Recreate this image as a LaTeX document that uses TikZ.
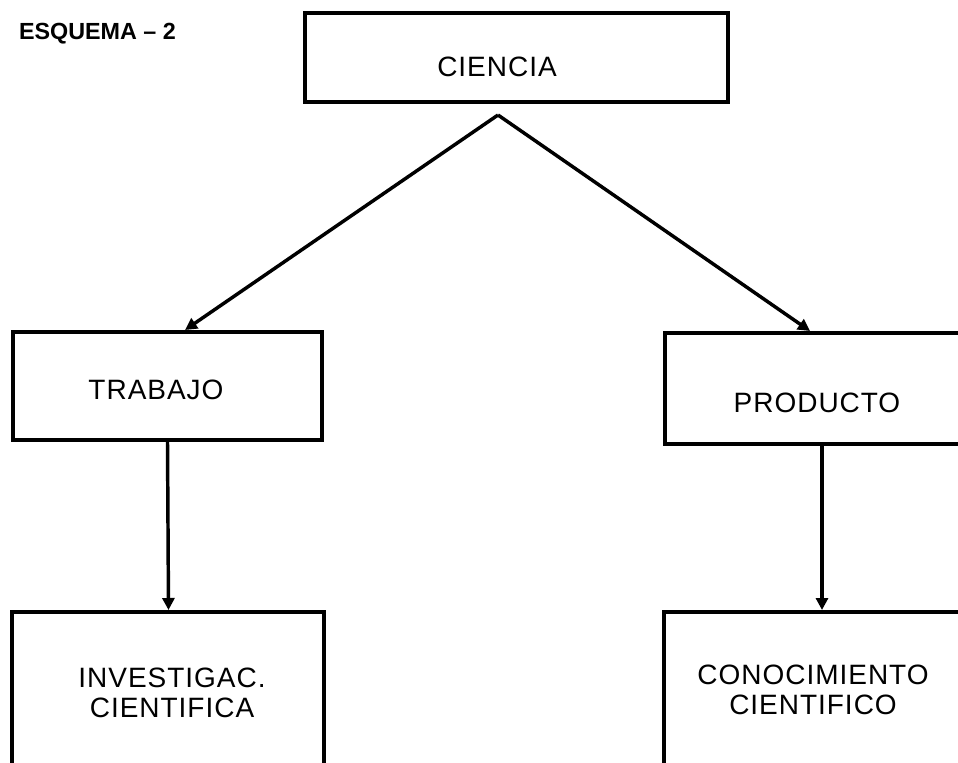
\documentclass[tikz,border=0pt]{standalone}
\usepackage{fontspec}
\setmainfont{Liberation Sans}
\newfontfamily\spacedfont[LetterSpace=3.5]{Liberation Sans}
\usetikzlibrary{arrows.meta,calc}
\begin{document}
\begin{tikzpicture}[x=0.75pt,y=-0.75pt,
  box/.style={draw=black,line width=3pt,rectangle,minimum width=#1,inner sep=0pt},
  lbl/.style={inner sep=0pt,align=center,font=\spacedfont\fontsize{21}{22.5}\selectfont},
  conn/.style={line width=2.6pt,-{Triangle[length=9pt,width=9pt]}}]
\useasboundingbox (0,0) rectangle (958,763);
\clip (0,0) rectangle (958,763);
\fill[white] (0,0) rectangle (958,763);
% boxes
\node[box=317.25pt,minimum height=66.75pt] (ciencia) at (516.5,57.5) {};
\node[box=231.75pt,minimum height=81pt] (trabajo) at (167.5,386) {};
\node[box=222.75pt,minimum height=83.25pt] (producto) at (813.5,388.5) {};
\node[box=234pt,minimum height=117pt] (invest) at (168,690) {};
\node[box=223.5pt,minimum height=117pt] (conoc) at (813,690) {};
% texts
\node[inner sep=0pt,font=\fontsize{17.5}{20}\selectfont\bfseries] (title) at (97.5,33.5) {ESQUEMA – 2};
\node[lbl] (tciencia) at (497,67) {CIENCIA};
\node[lbl] (ttrabajo) at (156,390) {TRABAJO};
\node[lbl] (tproducto) at (817,403) {PRODUCTO};
\node[lbl] (tinvest) at (172,693) {INVESTIGAC.\\CIENTIFICA};
\node[lbl] (tconoc) at (813,690) {CONOCIMIENTO\\CIENTIFICO};
% connectors
\coordinate (apex) at ($(ciencia.south)+(-18.5,11)$);
\draw[conn] (apex) -- ($(trabajo.north)+(17.5,0)$);
\draw[conn] (apex) -- ($(producto.north)+(-3.5,0)$);
\draw[conn] (trabajo.south) -- ($(invest.north)+(0.5,0)$);
\draw[conn] ($(producto.south)+(8.5,0)$) -- ($(conoc.north)+(9,0)$);
\end{tikzpicture}
\end{document}
